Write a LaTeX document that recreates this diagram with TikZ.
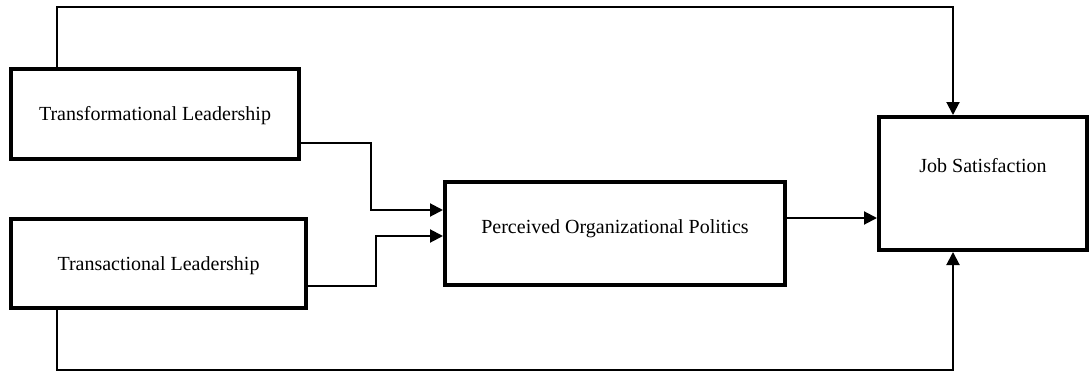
\documentclass[tikz,border=0pt]{standalone}
\usepackage{fontspec}
\setmainfont{Liberation Serif}
\usetikzlibrary{arrows.meta}

\tikzset{
    box/.style={draw, line width=4pt, text height=14pt, text depth=1pt, inner sep=0pt},
    link/.style={line width=2pt, -{Triangle[length=13pt,width=13pt]}}
}

\begin{document}
\begin{tikzpicture}[x=1pt, y=-1pt, font=\fontsize{20}{24}\selectfont]

\useasboundingbox (0,0) rectangle (1090,372);

\node [box, minimum width=288pt, minimum height=90pt] (tfl) at (155,114) {Transformational Leadership};
\node [box, minimum width=295pt, minimum height=89pt] (trl) at (158.5,263.5) {Transactional Leadership};
\node [box, minimum width=340pt, minimum height=103pt, text depth=14pt] (pop) at (615,233.5) {Perceived Organizational Politics};
\node [box, minimum width=208pt, minimum height=133pt, text depth=37pt] (js) at (983,183.5) {Job Satisfaction};

% bend points
\coordinate (topL) at (57,7);
\coordinate (topR) at (953,7);
\coordinate (botL) at (57,370);
\coordinate (botR) at (953,370);
\coordinate (tflBend) at (371,143);
\coordinate (trlBend) at (376,286);
\coordinate (popOut) at ([yshift=15.5pt]pop.east);

\draw [link] (tfl.north -| topL) -- (topL) -- (topR) -- (js.north -| topR);
\draw [link] (trl.south -| botL) -- (botL) -- (botR) -- (js.south -| botR);

\draw [link] (tfl.east |- tflBend) -- (tflBend) |- ([yshift=23.5pt]pop.west);
\draw [link] (trl.east |- trlBend) -- (trlBend) |- ([yshift=-2.5pt]pop.west);

\draw [link] (popOut) -- (js.west |- popOut);

\end{tikzpicture}
\end{document}
